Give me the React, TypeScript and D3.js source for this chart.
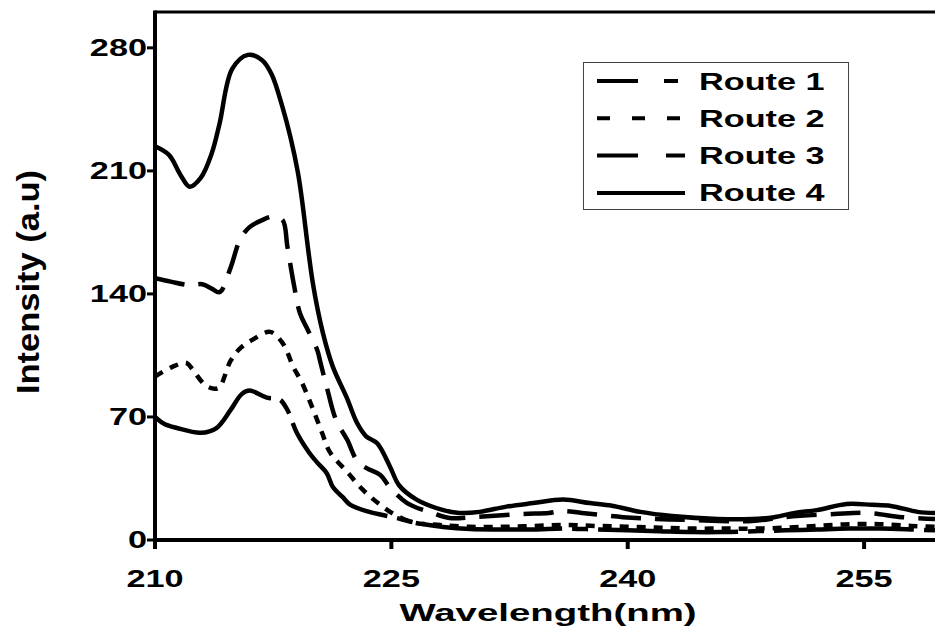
import React, { useEffect, useRef } from "react";
import * as d3 from "d3";

// axis ticks
const wavelengthTicks = [210, 225, 240, 255];
const intensityTicks = [0, 70, 140, 210, 280];

const routeNames = ["Route 1", "Route 2", "Route 3", "Route 4"];

// values (wavelength nm, intensity a.u)
const route1Wl = [210, 210.6, 211.4, 212.9, 213.9, 214.8, 215.5, 216, 217.1, 217.9, 218.4, 219, 219.8, 220.3, 220.9, 221.3, 221.9, 222.4, 223.6, 225.1, 226.6, 228.3, 230, 232, 234, 236, 238, 240, 242, 244, 246, 248, 250, 252, 254, 256, 258, 259.5];
const route1Int = [70, 66, 63.7, 61, 63.7, 74, 83, 85, 81, 80, 74, 61, 49.5, 44, 38, 30, 24.5, 20, 16, 13, 9.7, 7.4, 6.2, 6, 6, 6.5, 6, 5.5, 5, 4.5, 4.5, 5, 5.5, 6, 6.5, 6.5, 6, 5.5];

const route2Wl = [210, 211.1, 212, 212.4, 213.2, 213.8, 214.1, 214.8, 215.4, 216.2, 217.3, 218.1, 218.8, 219.3, 220, 220.6, 221.1, 222.2, 223.2, 224.3, 225.3, 226.4, 228.1, 230, 232, 234, 236, 238, 240, 242, 244, 246, 248, 250, 252, 254, 256, 258, 259.5];
const route2Int = [93, 98.5, 100.7, 96.8, 88, 86, 87, 102, 109, 114, 118.4, 112, 98, 90, 75, 61, 50, 38.7, 28.5, 20, 14, 10, 8.5, 7.5, 7.5, 8, 8.5, 8, 7.5, 7, 6.5, 6.5, 6.5, 7, 8, 9, 9, 8, 7.5];

const route3Wl = [210, 211, 212.2, 213, 213.6, 214.1, 214.8, 215.4, 216, 216.8, 217.5, 218.1, 218.4, 218.8, 219.2, 219.7, 220.3, 220.5, 220.9, 221.5, 222.2, 222.8, 223.4, 224.3, 224.9, 226, 227.6, 228.7, 230.2, 233.3, 235, 235.9, 237.1, 239.7, 241.8, 243.9, 247.9, 249.9, 253.1, 255.2, 257.4, 259.5];
const route3Int = [149, 147, 145, 145.5, 143, 141, 155, 171, 178, 182, 184, 182, 167, 146, 129, 119.5, 108, 101, 87, 68, 57, 45.5, 41, 37, 30, 21, 15.4, 12.5, 13, 14.8, 15.4, 16.5, 15.4, 13, 12, 11.4, 10.8, 13, 14.8, 15.4, 13, 12];

const route4Wl = [210, 210.9, 211.6, 212.2, 212.9, 213.6, 214.1, 214.9, 215.9, 216.8, 217.4, 218.1, 218.6, 219.07, 219.32, 220.02, 220.65, 221.29, 222.17, 222.8, 223.4, 224.1, 224.9, 225.5, 226.6, 228.3, 229.3, 230.6, 232.3, 234, 235.9, 237.6, 239, 240.8, 242.8, 245.7, 247.9, 249.3, 250.6, 252, 253.9, 255.5, 256.7, 258.4, 259.5];
const route4Int = [224, 219, 208, 201, 206, 220, 237, 268, 276, 273, 265, 246, 229, 209, 194, 146, 118, 98.5, 81, 67, 59, 55, 42, 31, 23, 17, 15.4, 16, 19, 21, 23, 21, 19.5, 16, 13.7, 12, 12, 13, 15.4, 17, 20.5, 20, 19.4, 16, 15.4];

const FONT = "'Liberation Sans', Arial, sans-serif";
const STRETCH = 1.49; // the original figure is stretched sideways

function App() {
  const svgRef = useRef(null);

  useEffect(() => {
    const svg = d3.select(svgRef.current);
    svg.selectAll("*").remove();

    const left = 155, right = 935, top = 12, bottom = 540;

    const x = d3.scaleLinear().domain([210, 259.5]).range([left, right]);
    const y = d3.scaleLinear().domain([0, 300]).range([bottom, top + 0.7]);

    const routes = [
      { wl: route1Wl, val: route1Int, dash: "140 10 16 10", legendDash: "41 26 14 30" },
      { wl: route2Wl, val: route2Int, dash: "9 8", legendDash: "13 22" },
      { wl: route3Wl, val: route3Int, dash: "30 14", legendDash: "41 28" },
      { wl: route4Wl, val: route4Int, dash: null, legendDash: null },
    ];

    svg.append("defs").append("clipPath").attr("id", "plotClip")
      .append("rect").attr("x", left).attr("y", top).attr("width", right - left).attr("height", bottom - top);

    // lines
    const line = d3.line()
      .x((d) => x(d[0]))
      .y((d) => y(d[1]))
      .curve(d3.curveCatmullRom.alpha(0.5));

    const plot = svg.append("g").attr("clip-path", "url(#plotClip)");
    routes.forEach((r) => {
      const pts = r.wl.map((w, i) => [w, r.val[i]]);
      plot.append("path")
        .datum(pts)
        .attr("fill", "none")
        .attr("stroke", "#000")
        .attr("stroke-width", 4.5)
        .attr("stroke-dasharray", r.dash)
        .attr("d", line);
    });

    // frame
    svg.append("line").attr("x1", left).attr("x2", right).attr("y1", top).attr("y2", top)
      .attr("stroke", "#000").attr("stroke-width", 3);
    svg.append("line").attr("x1", left).attr("x2", left).attr("y1", top - 1.5).attr("y2", bottom + 2)
      .attr("stroke", "#000").attr("stroke-width", 4);
    svg.append("line").attr("x1", left - 2).attr("x2", right).attr("y1", bottom).attr("y2", bottom)
      .attr("stroke", "#000").attr("stroke-width", 4);

    // y axis
    const yAxis = svg.append("g");
    intensityTicks.forEach((t) => {
      yAxis.append("line").attr("x1", left - 8).attr("x2", left).attr("y1", y(t)).attr("y2", y(t))
        .attr("stroke", "#000").attr("stroke-width", 3);
      yAxis.append("g")
        .attr("transform", `translate(${left - 8},${y(t) + 8}) scale(${STRETCH},1)`)
        .append("text")
        .attr("text-anchor", "end")
        .attr("font-family", FONT)
        .attr("font-weight", "bold")
        .attr("font-size", 23)
        .text(t);
    });

    // x axis
    const xAxis = svg.append("g");
    wavelengthTicks.forEach((t) => {
      xAxis.append("line").attr("x1", x(t)).attr("x2", x(t)).attr("y1", bottom).attr("y2", bottom + 9)
        .attr("stroke", "#000").attr("stroke-width", 4);
      xAxis.append("g")
        .attr("transform", `translate(${x(t)},587) scale(${STRETCH},1)`)
        .append("text")
        .attr("text-anchor", "middle")
        .attr("font-family", FONT)
        .attr("font-weight", "bold")
        .attr("font-size", 23)
        .text(t);
    });

    // axis titles
    svg.append("g")
      .attr("transform", `translate(${(left + right) / 2 + 3},621) scale(1.6,1)`)
      .append("text")
      .attr("text-anchor", "middle")
      .attr("font-family", FONT)
      .attr("font-weight", "bold")
      .attr("font-size", 24)
      .text("Wavelength(nm)");

    svg.append("text")
      .attr("transform", "translate(39,282) rotate(-90)")
      .attr("text-anchor", "middle")
      .attr("font-family", FONT)
      .attr("font-weight", "bold")
      .attr("font-size", 31)
      .attr("textLength", 224)
      .attr("lengthAdjust", "spacingAndGlyphs")
      .text("Intensity (a.u)");

    // legend
    const lg = svg.append("g");
    lg.append("rect").attr("x", 583.5).attr("y", 62.5).attr("width", 265).attr("height", 147)
      .attr("fill", "#fff").attr("stroke", "#444").attr("stroke-width", 1);
    routes.forEach((r, i) => {
      const ly = 81 + i * 37.3;
      lg.append("line").attr("x1", 597).attr("x2", 685).attr("y1", ly).attr("y2", ly)
        .attr("stroke", "#000").attr("stroke-width", 4)
        .attr("stroke-dasharray", r.legendDash);
      lg.append("g")
        .attr("transform", `translate(699,${ly + 8.5}) scale(${STRETCH},1)`)
        .append("text")
        .attr("font-family", FONT)
        .attr("font-weight", "bold")
        .attr("font-size", 23)
        .text(routeNames[i]);
    });
  }, []);

  return (
    <svg
      ref={svgRef}
      width={935}
      height={630}
      style={{ position: "absolute", left: 0, top: 0, background: "#fff", display: "block" }}
    />
  );
}

export default App;
